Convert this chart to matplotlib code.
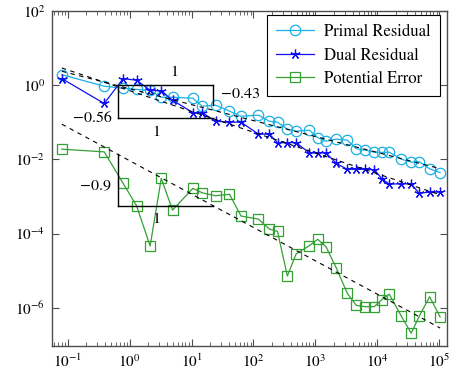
import matplotlib
matplotlib.use("Agg")
import numpy as np
import matplotlib.pyplot as plt
from matplotlib.ticker import FixedLocator, NullLocator, NullFormatter, LogFormatterSciNotation

plt.rcParams["font.family"] = "serif"
plt.rcParams["font.serif"] = ["STIXGeneral", "Liberation Serif", "DejaVu Serif"]
plt.rcParams["mathtext.fontset"] = "stix"

iters = [0.081, 0.39, 0.79, 1.3, 2.15, 3.25, 4.95, 10.5, 14.9, 24.4, 41, 63,
         120, 181, 244, 352, 486, 800, 1090, 1480, 2170, 3260, 4550, 6370,
         8890, 11800, 15500, 24200, 35000, 47000, 69500, 102600]

primal = [1.92, 0.94, 0.83, 0.77, 0.73, 0.475, 0.475, 0.447, 0.272, 0.29, 0.2,
          0.146, 0.156, 0.107, 0.101, 0.0654, 0.0578, 0.0615, 0.0386, 0.0311,
          0.0352, 0.0331, 0.0195, 0.0178, 0.0157, 0.0155, 0.0157, 0.0102,
          0.00846, 0.00873, 0.00558, 0.00441]

dual = [1.51, 0.322, 1.51, 1.36, 0.73, 0.70, 0.395, 0.182, 0.182, 0.107, 0.101,
        0.101, 0.048, 0.048, 0.0283, 0.0283, 0.0283, 0.01496, 0.01496, 0.01496,
        0.0078, 0.00542, 0.00542, 0.00542, 0.0053, 0.0030, 0.00216, 0.0022,
        0.0022, 0.00122, 0.00132, 0.00132]

potential = [0.0189, 0.016, 0.00226, 5.64e-4, 4.64e-5, 3.08e-3, 4.32e-4, 1.66e-3,
             1.26e-3, 1.05e-3, 1.15e-3, 2.98e-4, 2.47e-4, 1.33e-4, 1.15e-4,
             7.22e-6, 2.82e-5, 4.78e-5, 7.03e-5, 4.44e-5, 1.19e-5, 2.47e-6,
             1.17e-6, 1.08e-6, 1.08e-6, 1.68e-6, 2.34e-6, 6.05e-7, 2.07e-7,
             5.87e-7, 2.0e-6, 5.69e-7]

# power-law fits: y = c * x^slope
fit_primal = (0.807, -0.43)
fit_dual = (0.714, -0.56)
fit_potential = (0.00927, -0.9)

xticks = [1e-1, 1e0, 1e1, 1e2, 1e3, 1e4, 1e5]
yticks = [1e-6, 1e-4, 1e-2, 1e0, 1e2]

fig = plt.figure(figsize=(4.5, 3.74), dpi=100)
ax = fig.add_axes([0.1156, 0.0749, 0.878, 0.8957])
ax.set_xscale("log")
ax.set_yscale("log")

ax.plot(iters, primal, color="#1ab0e6", lw=0.9, marker="o", ms=7.5, mfc="none",
        mew=0.9, label="Primal Residual")
ax.plot(iters, dual, color="#1010f0", lw=0.9, marker=(5, 2, 0), ms=7, mew=0.9,
        label="Dual Residual")
ax.plot(iters, potential, color="#33a033", lw=0.9, marker="s", ms=7, mfc="none",
        mew=0.9, label="Potential Error")

xf = np.array([iters[0], iters[-1]])
for c, s in (fit_primal, fit_dual, fit_potential):
    ax.plot(xf, c * xf ** s, color="black", lw=0.8, ls=(0, (4, 4)))

# slope triangles
k = dict(color="black", lw=1.0)
ax.plot([0.653, 22.1], [1.044, 1.044], **k)
ax.plot([22.1, 22.1], [1.044, 0.29], **k)
ax.plot([0.653, 0.653], [1.044, 0.132], **k)
ax.plot([0.653, 22.1], [0.132, 0.132], **k)
ax.plot([0.653, 0.653], [0.0139, 5.53e-4], **k)
ax.plot([0.653, 22.1], [5.53e-4, 5.53e-4], **k)

fs = 11.5
ax.text(5.35, 2.28, "1", fontsize=fs, ha="center", va="center")
ax.text(30.2, 0.573, "\u22120.43", fontsize=fs, ha="left", va="center")
ax.text(0.511, 0.127, "\u22120.56", fontsize=fs, ha="right", va="center")
ax.text(2.71, 0.0553, "1", fontsize=fs, ha="center", va="center")
ax.text(0.511, 2.03e-3, "\u22120.9", fontsize=fs, ha="right", va="center")
ax.text(2.71, 2.51e-4, "1", fontsize=fs, ha="center", va="center")

ax.set_xlim(0.0562, 1.33e5)
ax.set_ylim(9.4e-8, 1e2)
ax.xaxis.set_major_locator(FixedLocator(xticks))
ax.xaxis.set_major_formatter(LogFormatterSciNotation())
minor = [m * 10.0 ** e for e in range(-2, 6) for m in range(2, 10)]
minor = [v for v in minor if 0.0562 < v < 1.33e5]
ax.xaxis.set_minor_locator(FixedLocator(minor))
ax.xaxis.set_minor_formatter(NullFormatter())
ax.yaxis.set_major_locator(FixedLocator(yticks))
ax.yaxis.set_major_formatter(LogFormatterSciNotation())
ax.yaxis.set_minor_locator(NullLocator())
ax.tick_params(which="both", direction="in", top=True, right=True, labelsize=11,
               color="0.3")
ax.tick_params(which="major", length=5, width=0.8, pad=5)
ax.tick_params(which="minor", length=3, width=0.6)
for sp in ax.spines.values():
    sp.set_color("0.3")
    sp.set_linewidth(1.0)

leg = ax.legend(loc="upper right", bbox_to_anchor=(0.982, 0.988), borderaxespad=0,
                fontsize=12, fancybox=False, edgecolor="black", framealpha=1,
                handlelength=2.3, borderpad=0.55, labelspacing=0.45,
                handletextpad=0.6)
leg.get_frame().set_linewidth(0.8)

fig.savefig("out.png", dpi=100)
